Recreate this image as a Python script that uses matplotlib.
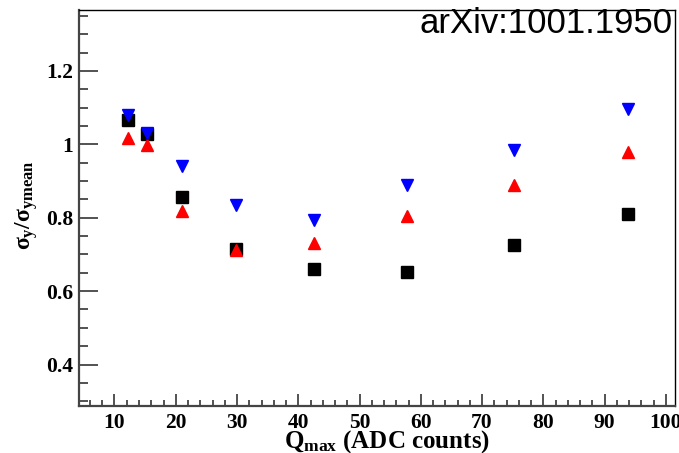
import numpy as np
import matplotlib
matplotlib.use("Agg")
import matplotlib.pyplot as plt
from matplotlib.ticker import MultipleLocator, FixedLocator, FixedFormatter

# resolution ratio vs. maximum pad charge, three series
q_max = [12.2, 15.3, 21.0, 29.9, 42.5, 57.7, 75.2, 93.8]
ratio_black = [1.065, 1.027, 0.856, 0.715, 0.659, 0.653, 0.727, 0.809]
ratio_red = [1.016, 0.997, 0.818, 0.713, 0.732, 0.804, 0.889, 0.978]
ratio_blue = [1.080, 1.032, 0.941, 0.836, 0.794, 0.889, 0.985, 1.096]

y_ticks = [0.4, 0.6, 0.8, 1.0, 1.2]
y_tick_labels = ['0.4', '0.6', '0.8', '1', '1.2']
x_ticks = [10, 20, 30, 40, 50, 60, 70, 80, 90, 100]

plt.rcParams['font.family'] = ['Liberation Serif', 'DejaVu Serif']
plt.rcParams['font.weight'] = 'bold'
plt.rcParams['mathtext.fontset'] = 'custom'
plt.rcParams['mathtext.rm'] = 'Liberation Serif:bold'
plt.rcParams['mathtext.it'] = 'Liberation Serif'
plt.rcParams['mathtext.bf'] = 'Liberation Serif:bold'

fig = plt.figure(figsize=(6.79, 4.53), dpi=100)
ax = fig.add_axes([0.1163, 0.1046, 0.8778, 0.8733])

ms = 8.5
ax.plot(q_max, ratio_black, 's', color='black', ms=ms, mec='black')
ax.plot(q_max, ratio_red, '^', color='red', ms=ms, mec='red')
ax.plot(q_max, ratio_blue, 'v', color='blue', ms=ms, mec='blue')

ax.set_xlim(4.2, 101.5)
ax.set_ylim(0.288, 1.366)

ax.xaxis.set_major_locator(FixedLocator(x_ticks))
ax.xaxis.set_minor_locator(MultipleLocator(2))
ax.yaxis.set_major_locator(FixedLocator(y_ticks))
ax.yaxis.set_major_formatter(FixedFormatter(y_tick_labels))
ax.yaxis.set_minor_locator(MultipleLocator(0.05))

ax.tick_params(axis='both', which='both', direction='in', color='#444444', width=1.3)
ax.tick_params(axis='y', which='major', length=13.5, pad=4, labelsize=15.5)
ax.tick_params(axis='y', which='minor', length=6.5)
ax.tick_params(axis='x', which='major', length=8.5, pad=5, labelsize=15.5)
ax.tick_params(axis='x', which='minor', length=4.3)
ax.tick_params(top=False, right=False, which='both')

for side in ['left', 'bottom']:
    ax.spines[side].set_color('#444444')
    ax.spines[side].set_linewidth(1.6)
for side in ['top', 'right']:
    ax.spines[side].set_color('black')
    ax.spines[side].set_linewidth(1.0)

ax.set_xlabel(r'$\mathrm{Q_{max}}$ (ADC counts)', fontsize=18, fontweight='bold')
ax.xaxis.set_label_coords(0.517, -0.056)
ax.set_ylabel(r'$\mathit{\sigma}_{\mathrm{y}}/\mathit{\sigma}_{\mathrm{ymean}}$', fontsize=17)
ax.yaxis.set_label_coords(-0.066, 0.507)

fig.text(0.991, 0.985, 'arXiv:1001.1950', family='Liberation Sans',
         fontweight='normal', fontsize=25, ha='right', va='top')

fig.savefig('out.png', dpi=100)
